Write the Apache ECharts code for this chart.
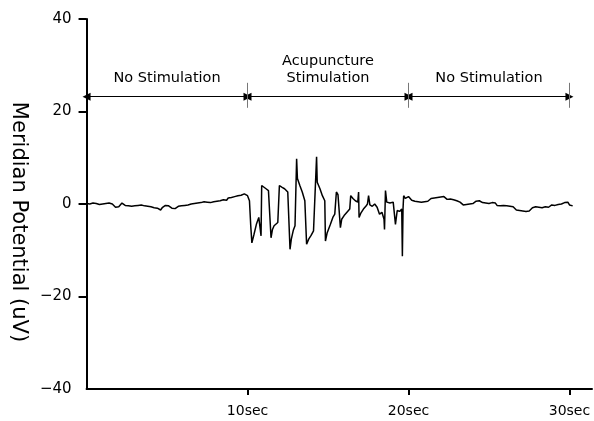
<!DOCTYPE html>
<html>
<head>
<meta charset="utf-8">
<script src="https://cdn.jsdelivr.net/npm/echarts@6/dist/echarts.min.js"></script>
<style>
    html, body { margin: 0; background: #fff; }
    #main { width: 594px; height: 421px; }
</style>
</head>
<body>
<div id="main"></div>
<script>
// resting trace before the needle, one sample every 0.1 s from 0 s
const preStart = 0;
const preValues = [
    0.1, 0.3, 0.0, 0.4, 0.2, 0.5, 0.1, 0.3, -0.1, 0.2, 0.0,
    0.3, 0.1, 0.5, 0.2, 0.4, 0.0, -0.3, -0.7, -1.1, -0.6,
    -0.2, 0.2, 0.0, -0.3, 0.1, -0.4, -0.2, -0.5, -0.3, -0.4,
    -0.6, -0.3, -0.5, -0.2, -0.6, -0.4, -0.7, -0.5, -0.3, -0.6,
    -0.5, -0.8, -0.6, -0.9, -1.0, -1.3, -0.8, -0.5, -0.3, -0.6,
    -0.4, -0.7, -0.9, -0.6, -1.0, -0.8, -0.5, -0.7, -0.4, -0.6,
    -0.3, -0.5, -0.2, -0.4, 0.0, -0.3, 0.1, -0.1, 0.2, 0.0,
    0.3, 0.1, 0.5, 0.2, 0.4, 0.6, 0.3, 0.7, 0.5, 0.8,
    0.6, 1.0, 0.7, 1.1, 0.9, 1.2, 0.8, 1.3, 1.1, 1.4,
    1.2, 1.6, 1.3, 1.8, 1.5, 1.9, 1.7, 2.2, 2.0, 1.8
];

// acupuncture stimulation, irregular samples (s, uV)
const stimTimes = [
    10.06, 10.12, 10.2, 10.27, 10.4, 10.55, 10.7, 10.8, 10.84, 10.88,
    11.0, 11.15, 11.3, 11.4, 11.46, 11.55, 11.65, 11.75, 11.88, 11.98,
    12.15, 12.3, 12.5, 12.57, 12.64, 12.72, 12.85, 12.95, 13.05, 13.1,
    13.25, 13.4, 13.56, 13.67, 13.8, 13.95, 14.1, 14.18, 14.29, 14.33,
    14.5, 14.65, 14.8, 14.84, 14.95, 15.15, 15.3, 15.42, 15.52, 15.62,
    15.72, 15.77, 15.85, 16.0, 16.15, 16.35, 16.41, 16.55, 16.7, 16.85,
    16.9, 16.93, 17.05, 17.2, 17.35, 17.45, 17.52, 17.6, 17.75, 17.9,
    18.05, 18.2, 18.35, 18.48, 18.51, 18.57, 18.65, 18.85, 19.05, 19.13,
    19.19, 19.3, 19.45, 19.58, 19.62, 19.66, 19.7, 19.8, 19.9, 20.0
];
const stimValues = [
    1.5, 0.7, -4.7, -8.4, -6.6, -4.4, -2.9, -2.5, -6.9, 4.0,
    3.6, 3.3, 2.9, 2.6, -7.3, -5.5, -4.7, -5.1, -4.0, 4.0,
    3.6, 3.3, 2.6, 2.2, -9.8, -7.6, -5.6, -4.7, 9.8, 5.5,
    4.0, 2.6, 0.7, -8.7, -7.6, -6.8, -5.8, -5.5, 10.2, 4.7,
    3.3, 1.8, 0.7, -8.0, -6.2, -4.4, -2.9, -2.2, 2.6, 2.0,
    1.8, -5.1, -3.3, -2.5, -1.9, -1.1, 1.8, 1.2, 0.7, 0.4,
    2.6, -2.9, -1.9, -1.1, -0.5, 0.0, 1.8, -0.2, -0.5, 0.0,
    -0.7, -2.2, -1.8, -3.3, -5.5, 2.9, 0.4, 0.2, 0.4, 0.0,
    -4.4, -1.4, -1.6, -1.1, -11.3, -1.1, 1.8, 1.2, 1.5, 1.6
];

// resting trace after the needle, one sample every 0.1 s from 20.1 s
const postStart = 20.1;
const postValues = [
    1.2, 0.8, 1.1, 0.6, 0.9, 0.5, 0.8, 0.4, 0.7, 0.5,
    0.9, 0.6, 1.0, 1.2, 0.8, 1.3, 1.0, 1.4, 1.1, 1.5,
    1.2, 1.6, 1.3, 1.0, 1.4, 1.1, 1.3, 0.9, 1.1, 0.7,
    0.9, 0.4, 0.1, -0.2, 0.2, -0.1, 0.3, 0.0, -0.2, 0.1,
    0.3, 0.6, 0.4, 0.7, 0.5, 0.3, 0.6, 0.2, 0.4, 0.1,
    0.0, 0.3, -0.1, 0.2, -0.3, 0.0, -0.4, -0.1, -0.3, 0.0,
    -0.4, -0.2, -0.5, -0.3, -0.6, -1.0, -1.3, -1.6, -1.4, -1.8,
    -1.5, -1.9, -1.6, -1.3, -1.5, -1.1, -0.8, -1.0, -0.6, -0.4,
    -0.7, -0.5, -0.8, -0.4, -0.6, -0.3, -0.7, -0.5, -0.2, -0.6,
    -0.3, -0.5, -0.1, -0.4, 0.0, -0.2, 0.3, 0.1, 0.4, -0.2,
    -0.5, -0.4
];

const xTicks = [10, 20, 30];
const yTickMarks = [-20, 0, 20, 40];
const phaseBounds = [0, 10, 20, 30];
const phaseNames = ['No Stimulation', 'Acupuncture\nStimulation', 'No Stimulation'];
const phaseLevel = 23.2;

const font = 'DejaVu Sans';

const trace = [];
preValues.forEach((v, i) => trace.push([+(preStart + i * 0.1).toFixed(2), v]));
stimTimes.forEach((t, i) => trace.push([t, stimValues[i]]));
postValues.forEach((v, i) => trace.push([+(postStart + i * 0.1).toFixed(2), v]));

const marks = [];
phaseNames.forEach((name, i) => {
    marks.push([
        { coord: [phaseBounds[i], phaseLevel], name: name },
        { coord: [phaseBounds[i + 1], phaseLevel] }
    ]);
});
// little vertical separators between the phases
phaseBounds.slice(1).forEach(t => {
    marks.push([
        { coord: [t, 26.2], symbol: 'none', lineStyle: { color: '#777', width: 1 }, label: { show: false } },
        { coord: [t, 20.8], symbol: 'none' }
    ]);
});

const axisLine = { show: true, onZero: false, lineStyle: { color: '#000', width: 2 } };
const tickStyle = { color: '#000', width: 2 };

const option = {
    animation: false,
    grid: { left: 84, right: 2, top: 19, bottom: 32 },
    xAxis: {
        type: 'value', min: 0, max: 31.4,
        axisLine: axisLine,
        axisTick: { show: true, inside: false, length: 6, customValues: xTicks, lineStyle: tickStyle },
        axisLabel: {
            customValues: xTicks, margin: 15, color: '#000', fontSize: 14, fontFamily: font,
            formatter: v => v + 'sec'
        },
        splitLine: { show: false }
    },
    yAxis: {
        type: 'value', min: -40, max: 40, interval: 20,
        name: 'Meridian Potential (uV)',
        nameLocation: 'middle',
        nameRotate: -90,
        nameGap: 52,
        nameTextStyle: { fontSize: 21, fontFamily: font, color: '#000', padding: [0, 0, 0, 36] },
        axisLine: axisLine,
        axisTick: { show: true, inside: false, length: 8, customValues: yTickMarks, lineStyle: tickStyle },
        axisLabel: {
            margin: 15, color: '#000', fontSize: 15, fontFamily: font,
            formatter: v => (v < 0 ? '\u2212' + (-v) : '' + v)
        },
        splitLine: { show: false }
    },
    series: [
        {
            name: 'Meridian potential',
            type: 'line',
            data: trace,
            showSymbol: false,
            sampling: 'none',
            lineStyle: { color: '#000', width: 1.5 },
            markLine: {
                silent: true,
                symbol: ['triangle', 'triangle'],
                symbolSize: 8,
                lineStyle: { color: '#000', width: 1, type: 'solid' },
                label: {
                    show: true,
                    position: 'insideMiddleTop',
                    distance: 10,
                    formatter: '{b}',
                    color: '#000',
                    fontSize: 14.5,
                    lineHeight: 17,
                    fontFamily: font
                },
                data: marks
            }
        }
    ]
};

const myChart = echarts.init(document.getElementById('main'));
myChart.setOption(option);
</script>
</body>
</html>
